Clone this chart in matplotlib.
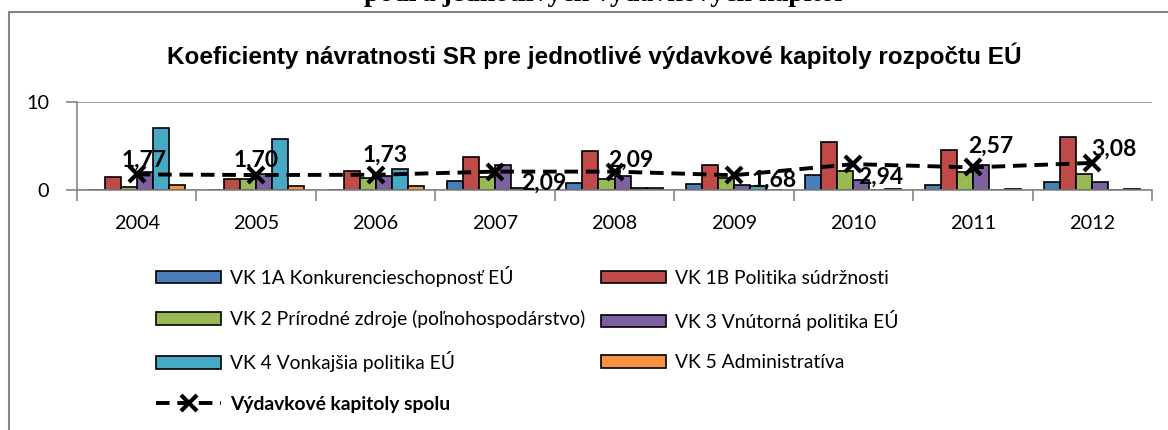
import matplotlib.pyplot as plt
import numpy as np
from matplotlib.patches import Rectangle

plt.rcParams['font.family'] = ['Lato', 'DejaVu Sans']

# data
years = ['2004', '2005', '2006', '2007', '2008', '2009', '2010', '2011', '2012']
vk1a = [0.0, 0.0, 0.0, 1.05, 0.75, 0.7, 1.75, 0.55, 0.9]
vk1b = [1.5, 1.3, 2.2, 3.75, 4.4, 2.8, 5.5, 4.6, 6.0]
vk2 = [0.3, 1.2, 1.4, 1.5, 1.2, 1.4, 2.2, 2.0, 1.85]
vk3 = [2.0, 1.8, 1.6, 2.8, 1.6, 0.6, 1.15, 2.8, 0.9]
vk4 = [7.0, 5.8, 2.35, 0.2, 0.2, 0.4, 0.0, 0.0, 0.0]
vk5 = [0.6, 0.4, 0.4, 0.05, 0.2, 0.05, 0.15, 0.1, 0.1]
spolu = [1.77, 1.70, 1.73, 2.09, 2.09, 1.68, 2.94, 2.57, 3.08]
spolu_txt = ['1,77', '1,70', '1,73', '2,09', '2,09', '1,68', '2,94', '2,57', '3,08']

series_names = ['VK 1A Konkurencieschopnosť EÚ', 'VK 1B Politika súdržnosti',
                'VK 2 Prírodné zdroje (poľnohospodárstvo)', 'VK 3 Vnútorná politika EÚ',
                'VK 4 Vonkajšia politika EÚ', 'VK 5 Administratíva']
colors = ['#4A7EBB', '#BE4B48', '#98B954', '#7D60A0', '#46AAC5', '#F69240']

# label offsets in pixels (position of each data label relative to marker)
lab_off = [(7, 14), (0, 15), (10, 20), (49, -12), (16, 11), (40, -5), (27, -13), (18, 21), (22, 14)]

W, H = 1168, 430
fig = plt.figure(figsize=(W / 100, H / 100), dpi=100)
ax = fig.add_axes([77 / W, 1 - 190 / H, 1075 / W, 88 / H])

x = np.arange(len(years))
bw = 0.134
all_series = [vk1a, vk1b, vk2, vk3, vk4, vk5]
bars = []
for i, (vals, c) in enumerate(zip(all_series, colors)):
    b = ax.bar(x + (i - 2.5) * bw, vals, bw, color=c, edgecolor='black', linewidth=1.2, zorder=2)
    bars.append(b)

ln, = ax.plot(x, spolu, color='black', linestyle=(0, (3.5, 2)), linewidth=2.8,
              marker='x', markersize=12, markeredgewidth=3, zorder=3)

for xi, v, t, off in zip(x, spolu, spolu_txt, lab_off):
    ax.annotate(t, (xi, v), xytext=off, textcoords='offset pixels', ha='center', va='center',
                fontsize=16.5, fontweight='bold', zorder=4)

ax.set_xlim(-0.5, len(years) - 0.5)
ax.set_ylim(0, 10)
ax.set_yticks([0, 10])
ax.set_xticks(x)
ax.set_xticklabels(years)
ax.set_xticks(np.arange(-0.5, len(years)), minor=True)
ax.tick_params(axis='x', which='major', length=0, pad=18, labelsize=14.3)
ax.tick_params(axis='x', which='minor', length=8, color='#868686', width=1.2)
ax.tick_params(axis='y', length=8, color='#868686', width=1.2, pad=12, labelsize=14.3)
ax.grid(axis='y', color='#868686', linewidth=1.2, zorder=0)
for s in ['top', 'right']:
    ax.spines[s].set_visible(False)
for s in ['left', 'bottom']:
    ax.spines[s].set_color('#868686')
    ax.spines[s].set_linewidth(1.2)

fig.text(594 / W, 1 - 64 / H, 'Koeficienty návratnosti SR pre jednotlivé výdavkové kapitoly rozpočtu EÚ',
         ha='center', va='baseline', fontsize=17.5, fontweight='bold', family='Liberation Sans')

# cut heading from the surrounding document
fig.text(603 / W, 1 - 1 / H, 'podľa jednotlivých výdavkových kapitol', ha='center', va='baseline',
         fontsize=20, fontweight='bold', family='Liberation Serif')

fig.add_artist(Rectangle((9 / W, -0.1), 1.2, (H - 12) / H + 0.1, transform=fig.transFigure,
                         fill=False, edgecolor='#868686', linewidth=1.5))

handles = [bars[0], bars[2], bars[4], ln, bars[1], bars[3], bars[5]]
labels = [series_names[0], series_names[2], series_names[4], 'Výdavkové kapitoly spolu',
          series_names[1], series_names[3], series_names[5]]
fs = 13.9
leg = fig.legend(handles, labels, ncol=2, loc='upper left', bbox_to_anchor=(156 / W, 1 - 266 / H),
                 frameon=False, fontsize=fs, handlelength=65 / (fs * 100 / 72),
                 handleheight=0.6, handletextpad=0.45, columnspacing=0.85, labelspacing=1.2,
                 borderpad=0, borderaxespad=0)
leg.get_texts()[3].set_fontweight('bold')

fig.savefig('out.png', dpi=100)
